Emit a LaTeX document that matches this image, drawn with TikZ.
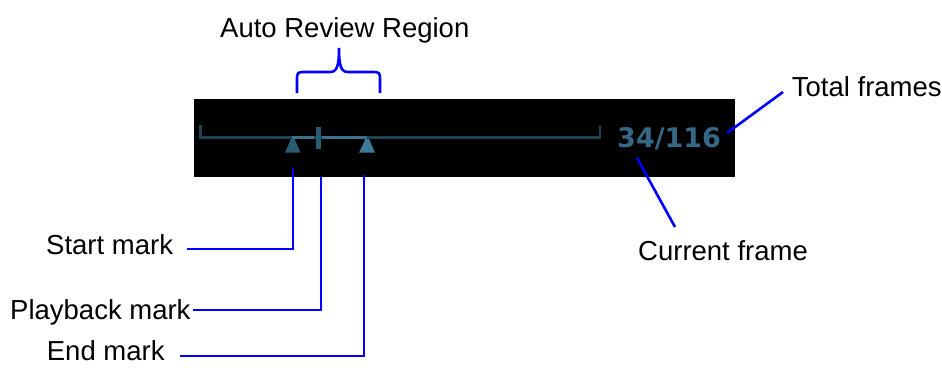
\documentclass[tikz,border=0pt]{standalone}
\usepackage{fontspec}
\setmainfont{Liberation Sans}
\newfontfamily\numfont{DejaVu Sans}
\definecolor{conblue}{RGB}{0,0,255}
\definecolor{trackdark}{RGB}{28,66,80}
\definecolor{tracklight}{RGB}{58,112,140}
\definecolor{markdark}{RGB}{40,92,112}
\definecolor{marklight}{RGB}{62,122,152}
\definecolor{numcol}{RGB}{52,104,134}
\tikzset{
  lbl/.style={anchor=base west, inner sep=0pt, font=\fontsize{27.5}{33}\selectfont},
  conn/.style={draw=conblue, line width=2.6pt},
  track/.style={draw=trackdark, line width=2.6pt},
  hitrack/.style={draw=tracklight, line width=3pt},
}
\begin{document}
\begin{tikzpicture}[x=1pt,y=-1pt]
\useasboundingbox (0,0) rectangle (942,367);
% black panel
\fill[black] (194,99) rectangle (735,177);
% track
\draw[track] (200.7,125) -- (200.7,137.5) -- (600,137.5) -- (600,125.5);
\draw[hitrack] (292,137) -- (314,137) (322,137) -- (367,137);
% playback bar
\fill[markdark] (316,127) rectangle (320.5,149);
% start & end triangles
\fill[markdark] (291,139) -- (294.5,139) -- (300.7,152.7) -- (285,152.7) -- cycle;
\fill[marklight] (365.5,139) -- (369,139) -- (375,152.7) -- (359,152.7) -- cycle;
% frame counter
\node[anchor=base west, inner sep=0pt, text=numcol, font=\numfont\bfseries\fontsize{27}{32}\selectfont] (count) at (617,147.7) {34/116};
% labels
\node[lbl] (arr) at (220,37) {Auto Review Region};
\node[lbl] (total) at (791.7,96.7) {Total frames};
\node[lbl] (cur) at (638,260) {Current frame};
\node[lbl] (startl) at (46,254) {Start mark};
\node[lbl] (playl) at (10,319) {Playback mark};
\node[lbl] (endl) at (46.7,360) {End mark};
% connector end points
\coordinate (sA) at (187,249);   \coordinate (sB) at (293,168);
\coordinate (pA) at (193,310);   \coordinate (pB) at (321,177);
\coordinate (eA) at (180,356);   \coordinate (eB) at (364,175);
\coordinate (cA) at (637,158);   \coordinate (cB) at (675,227);
\coordinate (tA) at (727,133);   \coordinate (tB) at (783,92);
\draw[conn] (sA) -| (sB);
\draw[conn] (pA) -| (pB);
\draw[conn] (eA) -| (eB);
\draw[conn] (cA) -- (cB);
\draw[conn] (tA) -- (tB);
% brace
\draw[conn] (297,93) -- (297,81) .. controls (297,72) .. (306,72) -- (330,72)
  .. controls (337,72) and (339,66) .. (339,48)
  .. controls (339,66) and (341,72) .. (348,72) -- (371,72)
  .. controls (380,72) .. (380,81) -- (380,93);
\end{tikzpicture}
\end{document}
